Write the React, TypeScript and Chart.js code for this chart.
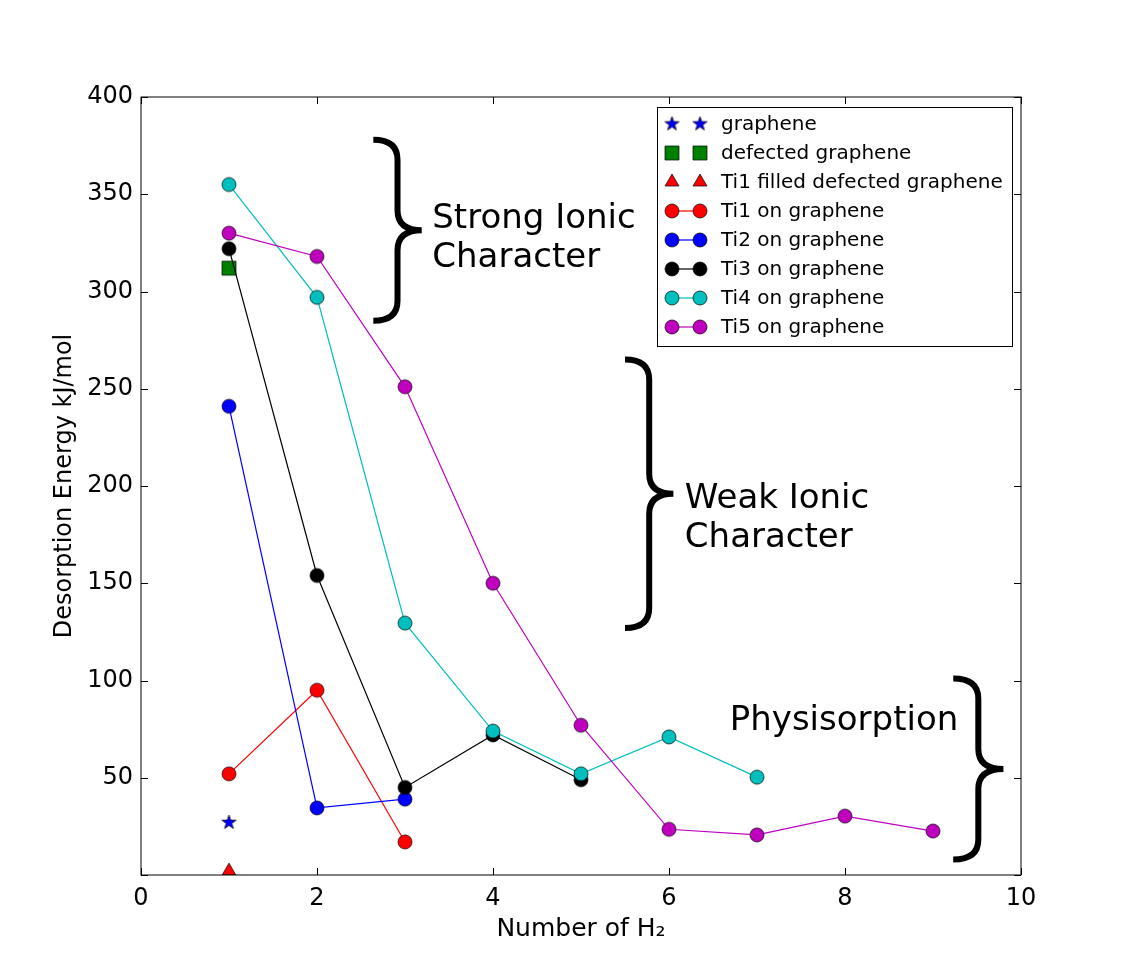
import { useEffect, useRef } from "react"
import { Chart, registerables } from "chart.js"

Chart.register(...registerables)

const FONT = "'DejaVu Sans', 'Liberation Sans', sans-serif"

// number of H2 molecules adsorbed
const nH2 = [1, 2, 3, 4, 5, 6, 7, 8, 9]

// desorption energies, kJ/mol
const grapheneE = [27]
const defectedE = [312]
const ti1FilledE = [2]
const ti1E = [52, 95, 17]
const ti2E = [241, 34.5, 39]
const ti3E = [322, 154, 45, 72, 49]
const ti4E = [355, 297, 129.5, 74, 52, 71, 50.3]
const ti5E = [330, 318, 251, 150, 77, 23.5, 20.6, 30.3, 22.6]

const xTicks = [0, 2, 4, 6, 8, 10]
const yTicks = [0, 50, 100, 150, 200, 250, 300, 350, 400]

// curly braces + labels, in data coordinates
const braces = [
    { x0: 2.64, x1: 3.19, yTop: 378, yBottom: 285 },
    { x0: 5.5, x1: 6.05, yTop: 265, yBottom: 127 },
    { x0: 9.23, x1: 9.8, yTop: 101, yBottom: 8 },
]
const notes = [
    { lines: ["Strong Ionic", "Character"], x: 3.31, y: 332.6 },
    { lines: ["Weak Ionic", "Character"], x: 6.18, y: 188.7 },
    { lines: ["Physisorption"], x: 6.69, y: 74.5 },
]

const makeMarker = (shape: string, fill: string, size: number) => {
    const dim = size + 6
    const c = document.createElement("canvas")
    c.width = dim
    c.height = dim
    const ctx = c.getContext("2d")!
    const m = dim / 2
    ctx.fillStyle = fill
    ctx.strokeStyle = "#000"
    ctx.lineWidth = 0.7
    ctx.beginPath()
    if (shape === "circle") {
        ctx.arc(m, m, size / 2, 0, Math.PI * 2)
    } else if (shape === "square") {
        ctx.rect(m - size / 2, m - size / 2, size, size)
    } else if (shape === "triangle") {
        const r = size / 2 + 1
        for (let i = 0; i < 3; i++) {
            const a = -Math.PI / 2 + (i * 2 * Math.PI) / 3
            const px = m + r * Math.cos(a)
            const py = m + r * Math.sin(a)
            if (i === 0) ctx.moveTo(px, py)
            else ctx.lineTo(px, py)
        }
    } else {
        const ro = size / 2 + 1
        const ri = ro * 0.4
        for (let i = 0; i < 10; i++) {
            const a = -Math.PI / 2 + (i * Math.PI) / 5
            const r = i % 2 === 0 ? ro : ri
            const px = m + r * Math.cos(a)
            const py = m + r * Math.sin(a)
            if (i === 0) ctx.moveTo(px, py)
            else ctx.lineTo(px, py)
        }
    }
    ctx.closePath()
    ctx.fill()
    ctx.stroke()
    return c
}

const pts = (ys: number[]) => ys.map((y, i) => ({ x: nH2[i], y }))

const frameTicks = {
    id: "frameTicks",
    afterDatasetsDraw(chart: any) {
        const { ctx, chartArea: a, scales } = chart
        ctx.save()
        ctx.strokeStyle = "#000"
        ctx.lineWidth = 1
        ctx.strokeRect(a.left, a.top, a.right - a.left, a.bottom - a.top)
        const len = 7
        ctx.beginPath()
        xTicks.forEach(v => {
            const px = Math.round(scales.x.getPixelForValue(v)) + 0.5
            ctx.moveTo(px, a.bottom)
            ctx.lineTo(px, a.bottom - len)
            ctx.moveTo(px, a.top)
            ctx.lineTo(px, a.top + len)
        })
        yTicks.forEach(v => {
            const py = Math.round(scales.y.getPixelForValue(v)) + 0.5
            ctx.moveTo(a.left, py)
            ctx.lineTo(a.left + len, py)
            ctx.moveTo(a.right, py)
            ctx.lineTo(a.right - len, py)
        })
        ctx.stroke()

        // braces
        ctx.lineWidth = 6
        braces.forEach(b => {
            const x0 = scales.x.getPixelForValue(b.x0)
            const x1 = scales.x.getPixelForValue(b.x1)
            const yt = scales.y.getPixelForValue(b.yTop)
            const yb = scales.y.getPixelForValue(b.yBottom)
            const xs = (x0 + x1) / 2
            const ym = (yt + yb) / 2
            const r = 20
            ctx.beginPath()
            ctx.moveTo(x0, yt)
            ctx.quadraticCurveTo(xs, yt, xs, yt + r)
            ctx.lineTo(xs, ym - r)
            ctx.quadraticCurveTo(xs, ym, x1, ym)
            ctx.quadraticCurveTo(xs, ym, xs, ym + r)
            ctx.lineTo(xs, yb - r)
            ctx.quadraticCurveTo(xs, yb, x0, yb)
            ctx.stroke()
        })

        ctx.fillStyle = "#000"
        ctx.font = `34px ${FONT}`
        ctx.textAlign = "left"
        ctx.textBaseline = "alphabetic"
        notes.forEach(n => {
            const px = scales.x.getPixelForValue(n.x)
            const py = scales.y.getPixelForValue(n.y)
            n.lines.forEach((line, i) => ctx.fillText(line, px, py + i * 39))
        })
        ctx.restore()
    },
    afterDraw(chart: any) {
        const { ctx, chartArea: a } = chart
        const w = 355
        const h = 239
        const left = a.right - 9 - w
        const top = a.top + 10
        ctx.save()
        ctx.fillStyle = "#fff"
        ctx.fillRect(left, top, w, h)
        ctx.strokeStyle = "#000"
        ctx.lineWidth = 1
        ctx.strokeRect(left + 0.5, top + 0.5, w, h)
        ctx.font = `20px ${FONT}`
        ctx.textBaseline = "middle"
        ctx.textAlign = "left"
        chart.data.datasets.forEach((ds: any, i: number) => {
            const y = top + 17 + i * 29
            const m1 = left + 15
            const m2 = left + 43
            if (ds.showLine) {
                ctx.strokeStyle = ds.borderColor
                ctx.lineWidth = 1.2
                ctx.beginPath()
                ctx.moveTo(m1, y)
                ctx.lineTo(m2, y)
                ctx.stroke()
            }
            const img = ds.pointStyle
            ctx.drawImage(img, m1 - img.width / 2, y - img.height / 2)
            ctx.drawImage(img, m2 - img.width / 2, y - img.height / 2)
            ctx.fillStyle = "#000"
            ctx.fillText(ds.label, left + 64, y + 1)
        })
        ctx.restore()
    },
}

const App = () => {
    const canvasRef = useRef<HTMLCanvasElement>(null)

    useEffect(() => {
        if (!canvasRef.current) return
        const series = [
            { label: "graphene", ys: grapheneE, color: "#0000ff", shape: "star", size: 13, line: false },
            { label: "defected graphene", ys: defectedE, color: "#008000", shape: "square", size: 14, line: false },
            { label: "Ti1 filled defected graphene", ys: ti1FilledE, color: "#ff0000", shape: "triangle", size: 14, line: false },
            { label: "Ti1 on graphene", ys: ti1E, color: "#ff0000", shape: "circle", size: 14, line: true },
            { label: "Ti2 on graphene", ys: ti2E, color: "#0000ff", shape: "circle", size: 14, line: true },
            { label: "Ti3 on graphene", ys: ti3E, color: "#000000", shape: "circle", size: 14, line: true },
            { label: "Ti4 on graphene", ys: ti4E, color: "#00bfbf", shape: "circle", size: 14, line: true },
            { label: "Ti5 on graphene", ys: ti5E, color: "#bf00bf", shape: "circle", size: 14, line: true },
        ]
        const chart = new Chart(canvasRef.current, {
            type: "scatter",
            data: {
                datasets: series.map((s, i) => ({
                    label: s.label,
                    data: pts(s.ys),
                    showLine: s.line,
                    borderColor: s.color,
                    backgroundColor: s.color,
                    borderWidth: 1.2,
                    pointStyle: makeMarker(s.shape, s.color, s.size) as any,
                    pointRadius: 7,
                    pointHoverRadius: 7,
                    order: series.length - i,
                })),
            },
            options: {
                animation: false,
                responsive: false,
                devicePixelRatio: 1,
                events: [],
                layout: { padding: { top: 97, right: 106, left: 0, bottom: 0 } },
                plugins: { legend: { display: false }, tooltip: { enabled: false } },
                scales: {
                    x: {
                        type: "linear",
                        min: 0,
                        max: 10,
                        afterFit: (s: any) => { s.height = 97 },
                        afterBuildTicks: (s: any) => { s.ticks = xTicks.map(value => ({ value })) },
                        grid: { display: false, drawTicks: false, tickLength: 0 },
                        border: { display: false },
                        ticks: { color: "#000", font: { family: FONT, size: 24 }, padding: 9, maxRotation: 0 },
                        title: {
                            display: true,
                            text: "Number of H₂",
                            color: "#000",
                            font: { family: FONT, size: 25 },
                            padding: { top: 0, bottom: 28 },
                        },
                    },
                    y: {
                        type: "linear",
                        min: 0,
                        max: 400,
                        afterFit: (s: any) => { s.width = 141 },
                        afterBuildTicks: (s: any) => { s.ticks = yTicks.map(value => ({ value })) },
                        grid: { display: false, drawTicks: false, tickLength: 0 },
                        border: { display: false },
                        ticks: {
                            color: "#000",
                            font: { family: FONT, size: 24 },
                            padding: 8,
                            callback: (v: any) => (v === 0 ? "" : String(v)),
                        },
                        title: {
                            display: true,
                            text: "Desorption Energy kJ/mol",
                            color: "#000",
                            font: { family: FONT, size: 24 },
                            padding: { top: 50, bottom: 0 },
                        },
                    },
                },
            },
            plugins: [frameTicks],
        })
        return () => {
            chart.destroy()
        }
    }, [])

    return (
        <div style={{ position: "fixed", left: 0, top: 0, width: 1127, height: 972, background: "#fff" }}>
            <canvas ref={canvasRef} width={1127} height={972}></canvas>
        </div>
    )
}

export default App
